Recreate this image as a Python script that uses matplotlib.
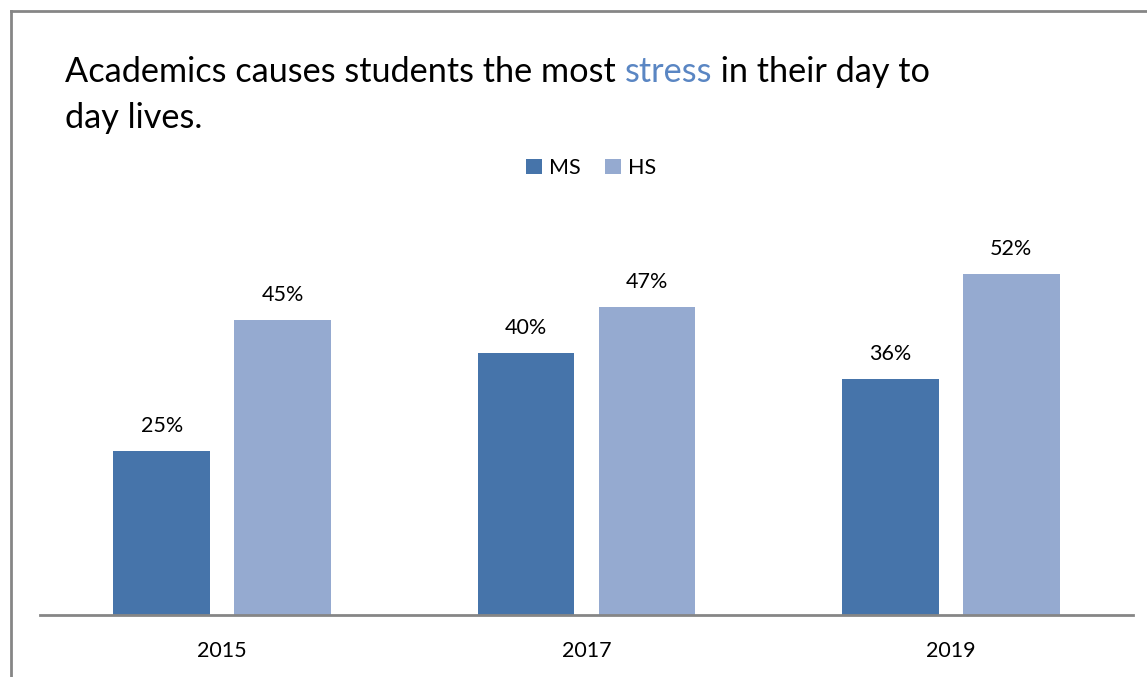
import matplotlib
matplotlib.use("Agg")
import matplotlib.pyplot as plt
import numpy as np
from matplotlib.patches import Patch
from matplotlib.lines import Line2D

years = ["2015", "2017", "2019"]
ms_values = [25, 40, 36]
hs_values = [45, 47, 52]
series_names = ["MS", "HS"]

MS_COLOR = "#4674AA"
HS_COLOR = "#95AAD0"
STRESS_COLOR = "#5A86C3"

plt.rcParams["font.family"] = ["Lato", "DejaVu Sans"]

fig = plt.figure(figsize=(11.47, 6.77), dpi=100)
W, H = 1147, 677

# axes placed in pixel terms: baseline at y=615, plot from x=40 to x=1133
left, right = 40 / W, 1133 / W
bottom = 1 - 615 / H
top = 1 - 222 / H
ax = fig.add_axes([left, bottom, right - left, top - bottom])

x = np.arange(len(years))
width = 0.266
offset = 0.166
b1 = ax.bar(x - offset, ms_values, width, color=MS_COLOR, label=series_names[0])
b2 = ax.bar(x + offset, hs_values, width, color=HS_COLOR, label=series_names[1])

label_size = 15.5
for bars, vals in ((b1, ms_values), (b2, hs_values)):
    for rect, v in zip(bars, vals):
        ax.annotate(f"{v}%", (rect.get_x() + rect.get_width() / 2, v),
                    xytext=(0, 11), textcoords="offset points",
                    ha="center", va="bottom", fontsize=label_size, color="#000000")

ax.set_xlim(-0.5, 2.5)
ax.set_ylim(0, 60)
ax.set_xticks(x)
ax.set_xticklabels(years, fontsize=label_size)
ax.tick_params(axis="x", length=0, pad=19)
ax.set_yticks([])
for s in ("top", "right", "left"):
    ax.spines[s].set_visible(False)
ax.spines["bottom"].set_color("#868686")
ax.spines["bottom"].set_linewidth(2)

# outer frame: top and left edges
fig.add_artist(Line2D([11 / W, 11 / W], [0, 1 - 11 / H], transform=fig.transFigure,
                      color="#868686", lw=2))
fig.add_artist(Line2D([11 / W, 1], [1 - 11 / H, 1 - 11 / H], transform=fig.transFigure,
                      color="#868686", lw=2))

# title with a highlighted word
tsize = 24.7
t1 = fig.text(65 / W, 1 - 72 / H, "Academics causes students the most ",
              fontsize=tsize, color="#000000", va="center")
t2 = ax.annotate("stress", xy=(1, 0), xycoords=t1, va="bottom", ha="left",
                 fontsize=tsize, color=STRESS_COLOR, annotation_clip=False)
t3 = ax.annotate(" in their day to", xy=(1, 0), xycoords=t2, va="bottom", ha="left",
                 fontsize=tsize, color="#000000", annotation_clip=False)
fig.text(65 / W, 1 - 118 / H, "day lives.", fontsize=tsize, color="#000000", va="center")

handles = [Patch(facecolor=MS_COLOR), Patch(facecolor=HS_COLOR)]
fig.legend(handles, series_names, loc="center", bbox_to_anchor=(591 / W, 1 - 168 / H),
           ncol=2, frameon=False, fontsize=label_size, handlelength=0.75, handleheight=0.75,
           handletextpad=0.35, columnspacing=1.1)

fig.savefig("out.png", dpi=100, facecolor="white")
